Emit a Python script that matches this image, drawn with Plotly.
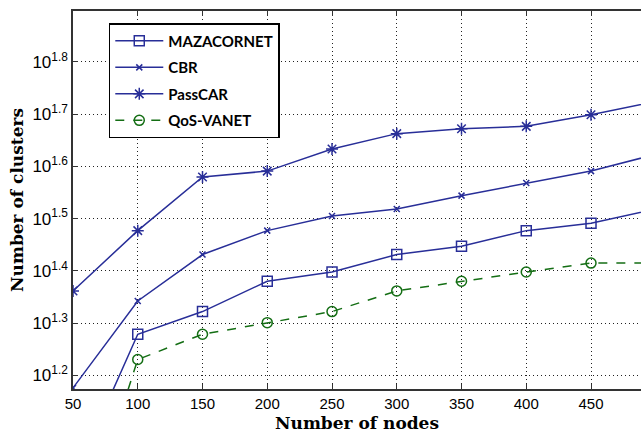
import plotly.graph_objects as go

# Number of nodes in the network
nodes = [50, 100, 150, 200, 250, 300, 350, 400, 450, 500]

# Number of clusters formed by each scheme
mazacornet = [10, 19, 21, 24, 25, 27, 28, 30, 31, 33]
cbr = [15, 22, 27, 30, 32, 33, 35, 37, 39, 42]
passcar = [23, 30, 38, 39, 43, 46, 47, 47.5, 50, 53]
qos_vanet = [7, 17, 19, 20, 21, 23, 24, 25, 26, 26]

y_tick_exps = [1.2, 1.3, 1.4, 1.5, 1.6, 1.7, 1.8]
x_ticks = [50, 100, 150, 200, 250, 300, 350, 400, 450]

BLUE = "rgb(40,46,152)"
GREEN = "rgb(20,110,20)"

fig = go.Figure()

series = [
    ("MAZACORNET", mazacornet, BLUE, "solid", "square-open", 10),
    ("CBR", cbr, BLUE, "solid", "x-thin-open", 6),
    ("PassCAR", passcar, BLUE, "solid", "asterisk-open", 10),
    ("QoS-VANET", qos_vanet, GREEN, "dash", "circle-open", 10),
]

for name, vals, color, dash, symbol, size in series:
    fig.add_trace(go.Scatter(
        x=nodes, y=vals, name=name, mode="lines+markers",
        legendgroup=name,
        line=dict(color=color, width=1.5, dash=dash),
        marker=dict(symbol=symbol, size=size, color=color,
                    line=dict(color=color, width=1.5)),
        cliponaxis=True,
    ))

fig.update_layout(
    width=641, height=436,
    margin=dict(l=73, r=0, t=11, b=47),
    paper_bgcolor="white", plot_bgcolor="white",
    showlegend=True,
    legend=dict(
        x=0.063, y=0.968, xanchor="left", yanchor="top",
        bgcolor="white", bordercolor="black", borderwidth=1.5,
        font=dict(family="Lato", size=15, color="black", weight="bold"),
        itemwidth=48, tracegroupgap=4,
    ),
)

grid_dash = "1px,3px"

fig.update_xaxes(
    range=[50, 488.6],
    tickvals=x_ticks,
    ticktext=[str(v) for v in x_ticks],
    tickfont=dict(family="Liberation Sans", size=15, color="black"),
    showline=True, linecolor="#333", linewidth=1.5, mirror="ticks",
    ticks="inside", ticklen=5, tickcolor="#333",
    showgrid=True, gridcolor="#222", griddash=grid_dash, gridwidth=1.2,
    zeroline=False,
    title=dict(text="Number of nodes", standoff=6,
               font=dict(family="DejaVu Serif", size=17, color="black", weight="bold")),
)

fig.update_yaxes(
    type="log",
    range=[1.174, 1.8975],
    tickvals=[10 ** e for e in y_tick_exps],
    ticktext=[f"10<sup>{e:.1f}</sup>" for e in y_tick_exps],
    tickfont=dict(family="Liberation Sans", size=17, color="black"),
    showline=True, linecolor="#333", linewidth=1.5, mirror=False,
    ticks="inside", ticklen=5, tickcolor="#333",
    showgrid=True, gridcolor="#222", griddash=grid_dash, gridwidth=1.2,
    zeroline=False,
    title=dict(text="Number of clusters", standoff=4,
               font=dict(family="DejaVu Serif", size=17, color="black", weight="bold")),
)

fig.write_html("out.html")
